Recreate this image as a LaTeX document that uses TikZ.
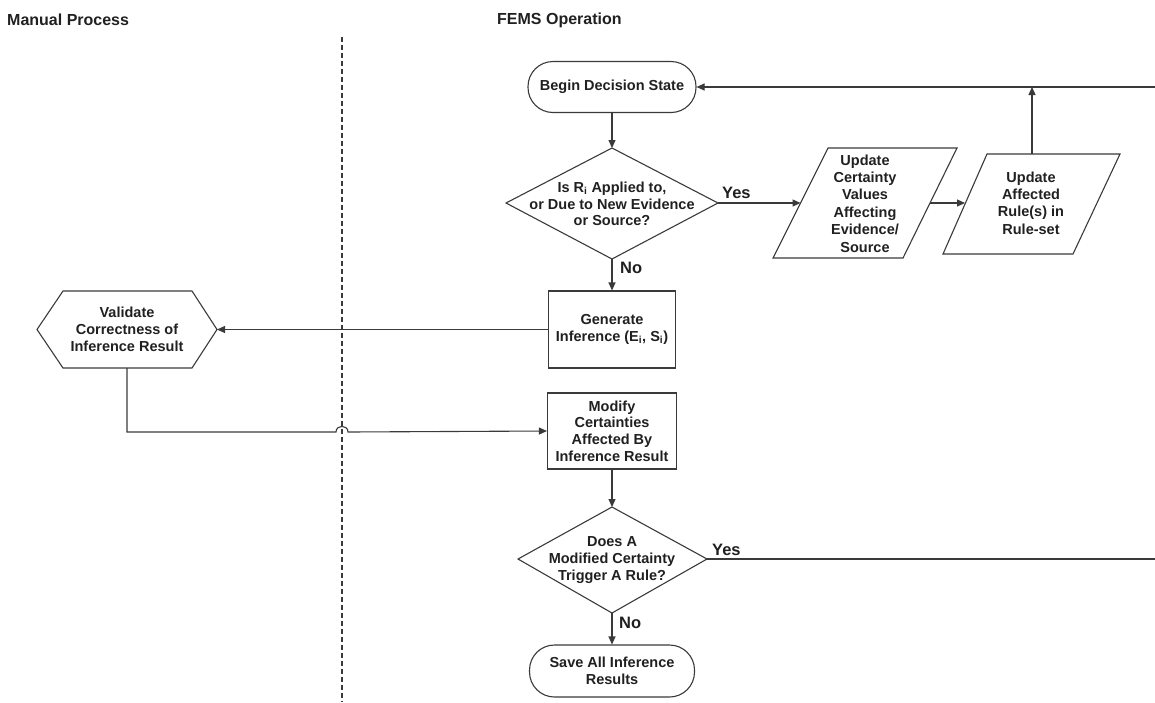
\documentclass[tikz,border=0pt]{standalone}
\usepackage{fontspec}
\setmainfont{Liberation Sans}
\usetikzlibrary{arrows.meta}
\definecolor{ln}{HTML}{3A3A3A}
\definecolor{tx}{HTML}{202020}
\tikzset{
  shp/.style={draw=ln, line width=1.1pt},
  box/.style={shp, rectangle, fill=white, inner sep=0pt, align=center, text=tx,
              font=\bfseries\fontsize{14.5}{16.7}\selectfont},
  term/.style={box, rounded corners=25pt},
  txt/.style={inner sep=0pt, align=center, text=tx, font=\bfseries\fontsize{14.5}{16.7}\selectfont},
  lbl/.style={inner sep=0pt, text=tx, font=\bfseries\fontsize{16.5}{19}\selectfont},
  hdr/.style={inner sep=0pt, text=tx, font=\bfseries\fontsize{16}{19}\selectfont, anchor=west},
  con/.style={draw=ln, line width=1.1pt},
  arr/.style={con, -{Triangle[length=8pt,width=7pt]}},
}
\begin{document}
\begin{tikzpicture}[x=1pt,y=-1pt]
\useasboundingbox (0,0) rectangle (1155,702);
% headers
\node[hdr] (hman) at (7,20) {Manual Process};
\node[hdr] (hfems) at (497,20) {FEMS Operation};
% swimlane divider
\coordinate (dvt) at (342,37);
\coordinate (dvb) at (342,702);
\draw[ln, line width=1.2pt, dash pattern=on 5pt off 3pt] (dvt) -- (dvb);

% begin
\node[term, minimum width=168pt, minimum height=51pt] (begin) at (612,87) {Begin Decision State};

% diamond 1
\coordinate (d1t) at (612,148);
\coordinate (d1l) at (506,203);
\coordinate (d1r) at (718,203);
\coordinate (d1b) at (612,259);
\draw[shp] (d1t) -- (d1r) -- (d1b) -- (d1l) -- cycle;
\node[txt] (d1) at (612,204) {Is R\textsubscript{i} Applied to,\\or Due to New Evidence\\or Source?};

% parallelogram 1
\draw[shp] (828,148) -- (957,148) -- (903,258) -- (773,258) -- cycle;
\coordinate (p1l) at (800.5,203);
\coordinate (p1r) at (930,203);
\node[txt, font=\bfseries\fontsize{14.5}{17.4}\selectfont] (p1) at (865,203.5) {Update\\Certainty\\Values\\Affecting\\Evidence/\\Source};

% parallelogram 2
\draw[shp] (987,154) -- (1120,154) -- (1073,254) -- (943,254) -- cycle;
\coordinate (p2l) at (965,203);
\coordinate (p2t) at (1032,154);
\node[txt, font=\bfseries\fontsize{14.5}{17.4}\selectfont] (p2) at (1031,203) {Update\\Affected\\Rule(s) in\\Rule-set};

% generate
\node[box, minimum width=127pt, minimum height=77pt] (gen) at (612,329.5) {Generate\\Inference (E\textsubscript{i}, S\textsubscript{i})};

% hexagon
\coordinate (hxr) at (217,329.5);
\coordinate (hxb) at (127,368);
\draw[shp] (37,329.5) -- (63,291) -- (192,291) -- (hxr) -- (192,368) -- (63,368) -- cycle;
\node[txt] (hex) at (127,329.5) {Validate\\Correctness of\\Inference Result};

% modify
\node[box, minimum width=129pt, minimum height=76pt] (mod) at (612,431) {Modify\\Certainties\\Affected By\\Inference Result};

% diamond 2
\coordinate (d2t) at (612,507);
\coordinate (d2l) at (518,559);
\coordinate (d2r) at (707,559);
\coordinate (d2b) at (612,613);
\draw[shp] (d2t) -- (d2r) -- (d2b) -- (d2l) -- cycle;
\node[txt] (d2) at (612,560) {Does A\\Modified Certainty\\Trigger A Rule?};

% save
\node[term, minimum width=165pt, minimum height=52pt] (save) at (612,671) {Save All Inference\\Results};

% right edge coordinates
\coordinate (etop) at (1155,87);
\coordinate (ejoin) at (1032,87);
\coordinate (ebot) at (1155,559);

% connectors
\draw[arr] (begin) -- (d1t);
\draw[arr] (d1b) -- (gen.north);
\node[lbl, anchor=west] (no1) at (620,268) {No};
\draw[arr] (d1r) -- (p1l);
\node[lbl, anchor=west] (yes1) at (722,193) {Yes};
\draw[arr] (p1r) -- (p2l);
\draw[arr] (p2t) -- (ejoin);
\draw[arr] (etop) -- (begin.east);
\draw[arr] (gen.west) -- (hxr);
\draw[arr] (hxb) -- (127,432) -- (336,432) .. controls (336,424.5) and (348,424.5) .. (348,432) -- (mod.west);
\draw[arr] (mod.south) -- (d2t);
\draw[con] (d2r) -- (ebot);
\node[lbl, anchor=west] (yes2) at (712,550) {Yes};
\draw[arr] (d2b) -- (save.north);
\node[lbl, anchor=west] (no2) at (619,623) {No};
\end{tikzpicture}
\end{document}
